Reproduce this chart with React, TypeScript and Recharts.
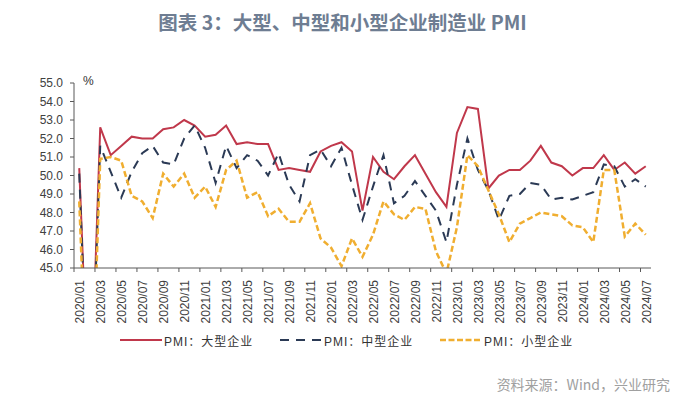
import React from 'react';
import { LineChart, Line, XAxis, YAxis, Legend } from 'recharts';

const categories = [
  '2020/01', '2020/02', '2020/03', '2020/04', '2020/05', '2020/06', '2020/07', '2020/08', '2020/09', '2020/10', '2020/11', '2020/12',
  '2021/01', '2021/02', '2021/03', '2021/04', '2021/05', '2021/06', '2021/07', '2021/08', '2021/09', '2021/10', '2021/11', '2021/12',
  '2022/01', '2022/02', '2022/03', '2022/04', '2022/05', '2022/06', '2022/07', '2022/08', '2022/09', '2022/10', '2022/11', '2022/12',
  '2023/01', '2023/02', '2023/03', '2023/04', '2023/05', '2023/06', '2023/07', '2023/08', '2023/09', '2023/10', '2023/11', '2023/12',
  '2024/01', '2024/02', '2024/03', '2024/04', '2024/05', '2024/06', '2024/07',
];

const largePMI = [
  50.4, 36.1, 52.6, 51.1, 51.6, 52.1, 52.0, 52.0, 52.5, 52.6, 53.0, 52.7,
  52.1, 52.2, 52.7, 51.7, 51.8, 51.7, 51.7, 50.3, 50.4, 50.3, 50.2, 51.3,
  51.6, 51.8, 51.3, 48.1, 51.0, 50.2, 49.8, 50.5, 51.1, 50.1, 49.1, 48.3,
  52.3, 53.7, 53.6, 49.3, 50.0, 50.3, 50.3, 50.8, 51.6, 50.7, 50.5, 50.0,
  50.4, 50.4, 51.1, 50.3, 50.7, 50.1, 50.5,
];

const mediumPMI = [
  50.1, 35.5, 51.6, 50.2, 48.8, 50.2, 51.2, 51.6, 50.7, 50.6, 52.0, 52.7,
  51.5, 49.6, 51.6, 50.4, 51.1, 50.8, 50.0, 51.2, 49.5, 48.6, 51.1, 51.4,
  50.5, 51.5, 49.5, 47.6, 49.4, 51.1, 48.5, 48.9, 49.7, 48.9, 48.1, 46.4,
  49.5, 52.0, 50.3, 49.2, 47.6, 48.9, 49.0, 49.6, 49.5, 48.7, 48.8, 48.7,
  48.9, 49.1, 50.6, 50.5, 49.4, 49.8, 49.4,
];

const smallPMI = [
  48.6, 34.1, 50.9, 51.0, 50.8, 48.9, 48.6, 47.7, 50.1, 49.4, 50.1, 48.8,
  49.4, 48.3, 50.3, 50.8, 48.8, 49.1, 47.8, 48.2, 47.5, 47.5, 48.5, 46.6,
  46.1, 45.1, 46.6, 45.6, 46.8, 48.6, 47.9, 47.6, 48.3, 48.2, 45.9, 44.7,
  47.2, 51.1, 50.5, 49.2, 47.9, 46.4, 47.4, 47.7, 48.0, 47.9, 47.8, 47.3,
  47.2, 46.4, 50.3, 50.3, 46.7, 47.4, 46.8,
];

const yTicks = [45, 46, 47, 48, 49, 50, 51, 52, 53, 54, 55];

const seriesNames = ['PMI：大型企业', 'PMI：中型企业', 'PMI：小型企业'];

const data = categories.map((month, i) => ({
  month,
  large: largePMI[i],
  medium: mediumPMI[i],
  small: smallPMI[i],
}));

const W = 700;
const H = 400;
const MARGIN = { top: 83, right: 49, left: 14, bottom: 72 };
const Y_W = 60;
const PLOT_W = W - MARGIN.left - MARGIN.right - Y_W;
const BW = PLOT_W / categories.length;

const RED = '#C0384B';
const BLUE = '#2B3A55';
const YELLOW = '#F0AE30';
const AXIS = '#595959';
const TXT = '#404040';
const FONT = '"Liberation Sans", "Noto Sans CJK SC", sans-serif';

const XTick = (props: any) => {
  const { x, y, payload } = props;
  const bx = x - BW / 2;
  const tx = x + 1;
  const ty = y + 12;
  return (
    <g>
      <line x1={bx} y1={y} x2={bx} y2={y + 4} stroke={AXIS} strokeWidth={1} />
      <text
        x={tx}
        y={ty}
        transform={`rotate(-90, ${tx}, ${ty})`}
        textAnchor="end"
        dy="0.35em"
        fontSize={12}
        fill={TXT}
        fontFamily={FONT}
      >
        {payload.value}
      </text>
    </g>
  );
};

const legendItems = [
  { name: seriesNames[0], color: RED, dash: undefined as string | undefined, width: 2 },
  { name: seriesNames[1], color: BLUE, dash: '9 7', width: 2 },
  { name: seriesNames[2], color: YELLOW, dash: '6 2.5', width: 2.5 },
];

const LegendContent = () => (
  <div style={{ position: 'relative', width: W, height: 20 }}>
    {legendItems.map((it, i) => (
      <div
        key={it.name}
        style={{
          position: 'absolute',
          left: 120 + i * 160,
          top: 0,
          display: 'flex',
          alignItems: 'center',
          height: 20,
          whiteSpace: 'nowrap',
        }}
      >
        <svg width={42} height={10} style={{ display: 'block' }}>
          <line x1={0} y1={5} x2={42} y2={5} stroke={it.color} strokeWidth={it.width} strokeDasharray={it.dash} />
        </svg>
        <span
          style={{
            marginLeft: 2,
            fontSize: 12,
            color: '#333',
            fontFamily: FONT,
            letterSpacing: 1,
          }}
        >
          {it.name}
        </span>
      </div>
    ))}
  </div>
);

export default function App() {
  return (
    <div
      style={{
        position: 'absolute',
        left: 0,
        top: 0,
        width: W,
        height: H,
        background: '#ffffff',
        overflow: 'hidden',
      }}
    >
      <div
        style={{
          position: 'absolute',
          left: 0,
          top: 7,
          width: 685,
          textAlign: 'center',
          fontFamily: '"Noto Sans CJK SC", sans-serif',
          fontWeight: 700,
          fontSize: 19.5,
          color: '#6E7D92',
          whiteSpace: 'nowrap',
        }}
      >
        图表 3：大型、中型和小型企业制造业 PMI
      </div>
      <div
        style={{
          position: 'absolute',
          left: 83,
          top: 74,
          fontFamily: FONT,
          fontSize: 12,
          color: '#333',
        }}
      >
        %
      </div>
      <LineChart width={W} height={H} data={data} margin={MARGIN}>
        <XAxis
          dataKey="month"
          scale="band"
          interval={1}
          tickSize={0}
          tickMargin={0}
          tickLine={false}
          axisLine={{ stroke: AXIS, strokeWidth: 1 }}
          height={60}
          tick={<XTick />}
        />
        <YAxis
          type="number"
          domain={[45, 55]}
          ticks={yTicks}
          interval={0}
          allowDataOverflow
          width={Y_W}
          tickSize={4}
          tickMargin={7}
          tickFormatter={(v: number) => v.toFixed(1)}
          tick={{ fontSize: 12, fill: TXT, fontFamily: FONT }}
          axisLine={{ stroke: AXIS, strokeWidth: 1 }}
          tickLine={{ stroke: AXIS, strokeWidth: 1 }}
        />
        <Legend
          verticalAlign="middle"
          align="center"
          layout="horizontal"
          wrapperStyle={{ top: 330, left: 0, width: W }}
          content={<LegendContent />}
        />
        <Line
          type="linear"
          dataKey="large"
          name={seriesNames[0]}
          stroke={RED}
          strokeWidth={2}
          dot={false}
          activeDot={false}
          isAnimationActive={false}
        />
        <Line
          type="linear"
          dataKey="medium"
          name={seriesNames[1]}
          stroke={BLUE}
          strokeWidth={2}
          strokeDasharray="9 7"
          dot={false}
          activeDot={false}
          isAnimationActive={false}
        />
        <Line
          type="linear"
          dataKey="small"
          name={seriesNames[2]}
          stroke={YELLOW}
          strokeWidth={2.5}
          strokeDasharray="6 3"
          dot={false}
          activeDot={false}
          isAnimationActive={false}
        />
      </LineChart>
      <div
        style={{
          position: 'absolute',
          right: 30,
          top: 374,
          fontFamily: '"Noto Sans CJK SC", sans-serif',
          fontSize: 14,
          color: '#A0A0A0',
          whiteSpace: 'nowrap',
        }}
      >
        资料来源：Wind，兴业研究
      </div>
    </div>
  );
}
